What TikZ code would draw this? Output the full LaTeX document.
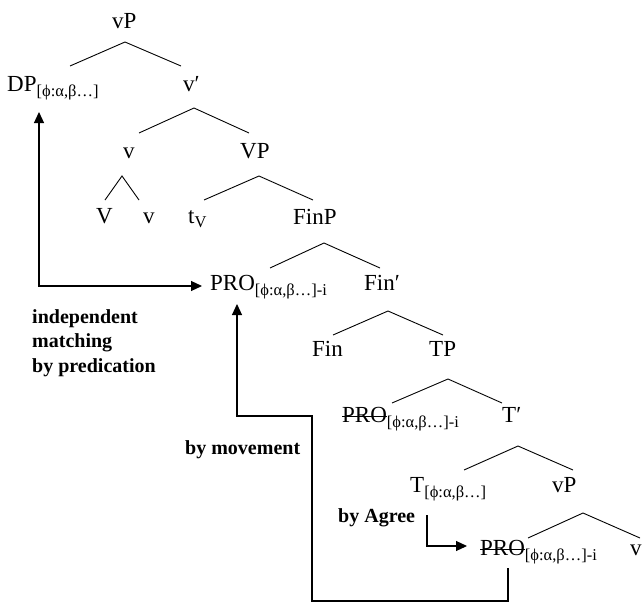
\documentclass[tikz,border=0pt]{standalone}
\usepackage{fontspec}
\setmainfont{Liberation Serif}
\usetikzlibrary{arrows.meta}
\newcommand\subf[1]{\raisebox{-5pt}{\fontsize{16.5}{16.5}\selectfont #1}}
\newcommand\strk[1]{\setbox0\hbox{#1}\rlap{\rule[5.5pt]{\wd0}{1pt}}\box0}
\newcommand\tri[6]{%
  \coordinate (#1a) at (#2,#3);
  \coordinate (#1l) at (#4,#6);
  \coordinate (#1r) at (#5,#6);
  \draw[branch] (#1l) -- (#1a) -- (#1r);}
\begin{document}
\begin{tikzpicture}[x=1pt,y=-1pt,
  lab/.style={anchor=base west,inner sep=0pt,font=\fontsize{23}{27}\selectfont},
  note/.style={anchor=base west,inner sep=0pt,font=\fontsize{20}{24.5}\selectfont\bfseries,align=left},
  branch/.style={line width=0.9pt},
  tip/.style={line width=1.1pt,-{Triangle[length=11pt,width=10pt]}},
  tips/.style={line width=1.1pt,{Triangle[length=11pt,width=10pt]}-{Triangle[length=11pt,width=10pt]}}]
\useasboundingbox (0,0) rectangle (642,602);
% labels
\node[lab] (vP1) at (112,29) {vP};
\node[lab] (DP) at (7,92) {DP\subf{[ϕ:α,β…]}};
\node[lab] (vbar) at (183,92) {v′};
\node[lab] (v1) at (123,158) {v};
\node[lab] (VP) at (240,158) {VP};
\node[lab] (V) at (96,223) {V};
\node[lab] (v2) at (143,223) {v};
\node[lab] (tV) at (188,223) {t\raisebox{-4pt}{\fontsize{16.5}{16.5}\selectfont V}};
\node[lab] (FinP) at (293,224) {FinP};
\node[lab] (PRO1) at (210,290) {PRO\subf{[ϕ:α,β…]-i}};
\node[lab] (Finbar) at (364,290) {Fin′};
\node[lab] (Fin) at (312,356) {Fin};
\node[lab] (TP) at (429,356) {TP};
\node[lab] (PRO2) at (342,422) {\strk{PRO}\subf{[ϕ:α,β…]-i}};
\node[lab] (Tbar) at (502,422) {T′};
\node[lab] (T) at (410,492) {T\subf{[ϕ:α,β…]}};
\node[lab] (vP2) at (552,492) {vP};
\node[lab] (PRO3) at (480,555) {\strk{PRO}\subf{[ϕ:α,β…]-i}};
\node[lab] (v3) at (630,555) {v};
% notes
\node[note] (pred) at (32,372) {independent\\matching\\by predication};
\node[note] (move) at (185,454) {by movement};
\node[note] (agree) at (338,522) {by Agree};
% branches
\tri{b1}{125}{42}{70}{181}{66}
\tri{b2}{194}{108}{139}{249}{133}
\tri{b3}{122}{176}{105}{139}{200}
\tri{b4}{259}{176}{204}{313}{200}
\tri{b5}{324}{243}{270}{380}{268}
\tri{b6}{388}{311}{333}{443}{335}
\tri{b7}{448}{379}{392}{502}{403}
\tri{b8}{518}{446}{464}{573}{470}
\tri{b9}{583}{513}{528}{640}{538}
% predication arrow
\coordinate (p0) at (39,112);
\coordinate (p1) at (39,286);
\coordinate (p2) at (202,286);
\draw[tips] (p0) -- (p1) -- (p2);
% movement arrow
\coordinate (m0) at (508,568);
\coordinate (m1) at (508,601);
\coordinate (m2) at (312,601);
\coordinate (m3) at (312,416);
\coordinate (m4) at (237,416);
\coordinate (m5) at (237,304);
\draw[tip] (m0) -- (m1) -- (m2) -- (m3) -- (m4) -- (m5);
% agree arrow
\coordinate (g0) at (427,515);
\coordinate (g1) at (427,546);
\coordinate (g2) at (467,546);
\draw[tip] (g0) -- (g1) -- (g2);
\end{tikzpicture}
\end{document}
